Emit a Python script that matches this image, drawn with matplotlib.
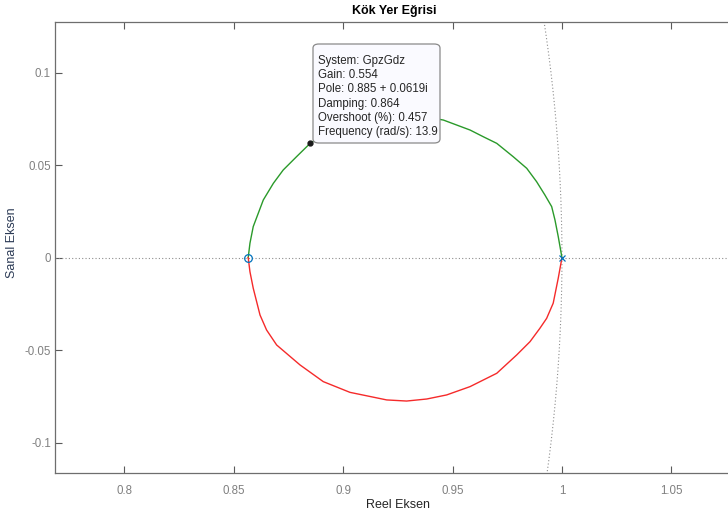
import numpy as np
import matplotlib
matplotlib.use("Agg")
import matplotlib.pyplot as plt
from matplotlib.patches import FancyBboxPatch

plt.rcParams['font.family'] = ['Liberation Sans', 'DejaVu Sans']

# Root locus branches (real, imaginary)
upper_re = [1.0000, 0.9983, 0.9968, 0.9953, 0.9922, 0.9884, 0.9839, 0.9777,
            0.9702, 0.9640, 0.9580, 0.9519, 0.9458, 0.9382, 0.9290, 0.9199,
            0.9031, 0.8909, 0.8850, 0.8787, 0.8726, 0.8681, 0.8635, 0.8612,
            0.8589, 0.8574, 0.8566]
upper_im = [0.0000, 0.0114, 0.0204, 0.0276, 0.0339, 0.0411, 0.0483, 0.0546,
            0.0618, 0.0654, 0.0690, 0.0717, 0.0744, 0.0760, 0.0768, 0.0764,
            0.0726, 0.0662, 0.0619, 0.0546, 0.0474, 0.0402, 0.0312, 0.0240,
            0.0168, 0.0078, 0.0000]

lower_re = [1.0000, 0.9983, 0.9960, 0.9930, 0.9899, 0.9854, 0.9793, 0.9702,
            0.9580, 0.9473, 0.9382, 0.9290, 0.9199, 0.9031, 0.8909, 0.8803,
            0.8696, 0.8650, 0.8620, 0.8589, 0.8574, 0.8566]
lower_im = [0.0000, -0.0111, -0.0246, -0.0328, -0.0382, -0.0454, -0.0526, -0.0625,
            -0.0697, -0.0742, -0.0764, -0.0775, -0.0769, -0.0728, -0.0670, -0.0580,
            -0.0472, -0.0391, -0.0310, -0.0165, -0.0076, 0.0000]

poles_re = [1.0]
poles_im = [0.0]
zeros_re = [0.8566]
zeros_im = [0.0]

# Selected point on the locus
tip_re, tip_im = 0.885, 0.0619
tip_lines = ["System: GpzGdz", "Gain: 0.554", "Pole: 0.885 + 0.0619i",
             "Damping: 0.864", "Overshoot (%): 0.457", "Frequency (rad/s): 13.9"]

x_ticks = [0.8, 0.85, 0.9, 0.95, 1.0, 1.05]
x_tick_labels = ["0.8", "0.85", "0.9", "0.95", "1", "1.05"]
y_ticks = [-0.1, -0.05, 0.0, 0.05, 0.1]
y_tick_labels = ["-0.1", "-0.05", "0", "0.05", "0.1"]

W, H = 728, 513
fig = plt.figure(figsize=(W / 100, H / 100), dpi=100)
ax_left, ax_right, ax_top, ax_bot = 55, 740, 22, 473
ax = fig.add_axes([ax_left / W, 1 - ax_bot / H, (ax_right - ax_left) / W, (ax_bot - ax_top) / H])

ax.set_xlim(0.7683, 0.7683 + (ax_right - ax_left) / 2188)
ax.set_ylim(-0.1164, 0.1274)

# Unit circle and real axis (dotted grid)
theta = np.linspace(-0.2, 0.2, 400)
ax.plot(np.cos(theta), np.sin(theta), ls=(0, (1, 2)), color='#8c8c8c', lw=0.8)
ax.axhline(0, ls=(0, (1, 2)), color='#8c8c8c', lw=0.8)

green = '#2a9a2a'
red = '#f52a2a'
ax.plot(upper_re, upper_im, color=green, lw=1.0)
ax.plot(lower_re, lower_im, color=red, lw=1.0)

blue = '#0072BD'
ax.plot(zeros_re, zeros_im, 'o', mfc='none', mec=blue, ms=5.5, mew=0.9)
ax.plot(poles_re, poles_im, 'x', color=blue, ms=4.5, mew=0.9)

# Data tip
ax.plot([tip_re], [tip_im], 'o', color='#1a1a1a', ms=3.5, zorder=6)
bx0, by0, bw, bh = 313, 44, 127, 99
box = FancyBboxPatch((bx0 / W, 1 - (by0 + bh) / H), bw / W, bh / H,
                     boxstyle="round,pad=0,rounding_size=0.008",
                     transform=fig.transFigure, facecolor='#fafaff',
                     edgecolor='#8a8a8a', lw=0.9, zorder=5)
fig.patches.append(box)
for i, line in enumerate(tip_lines):
    fig.text((bx0 + 5) / W, 1 - (by0 + 20 + i * 14.2) / H, line,
             fontsize=8.3, color='#262626', va='baseline', ha='left', zorder=7)

ax.set_xticks(x_ticks)
ax.set_xticklabels(x_tick_labels)
ax.set_yticks(y_ticks)
ax.set_yticklabels(y_tick_labels)
ax.tick_params(direction='in', length=5, width=0.8, color='#5a5a5a',
               labelsize=8.3, labelcolor='#808080', top=True, right=False)
ax.tick_params(axis='x', pad=9)
ax.tick_params(axis='y', pad=3)
for s in ['left', 'bottom', 'top']:
    ax.spines[s].set_color('#6e6e6e')
    ax.spines[s].set_linewidth(0.9)
ax.spines['right'].set_visible(False)

ax.set_xlabel('Reel Eksen', fontsize=9, color='#262626', labelpad=1)
ax.set_ylabel('Sanal Eksen', fontsize=9, color='#2b3a55')
ax.yaxis.set_label_coords((18 - ax_left) / (ax_right - ax_left), 0.51)
fig.text(394 / W, 1 - 11 / H, 'Kök Yer Eğrisi', fontsize=9, fontweight='bold',
         ha='center', va='center', color='#000000')

fig.savefig('out.png', dpi=100)
